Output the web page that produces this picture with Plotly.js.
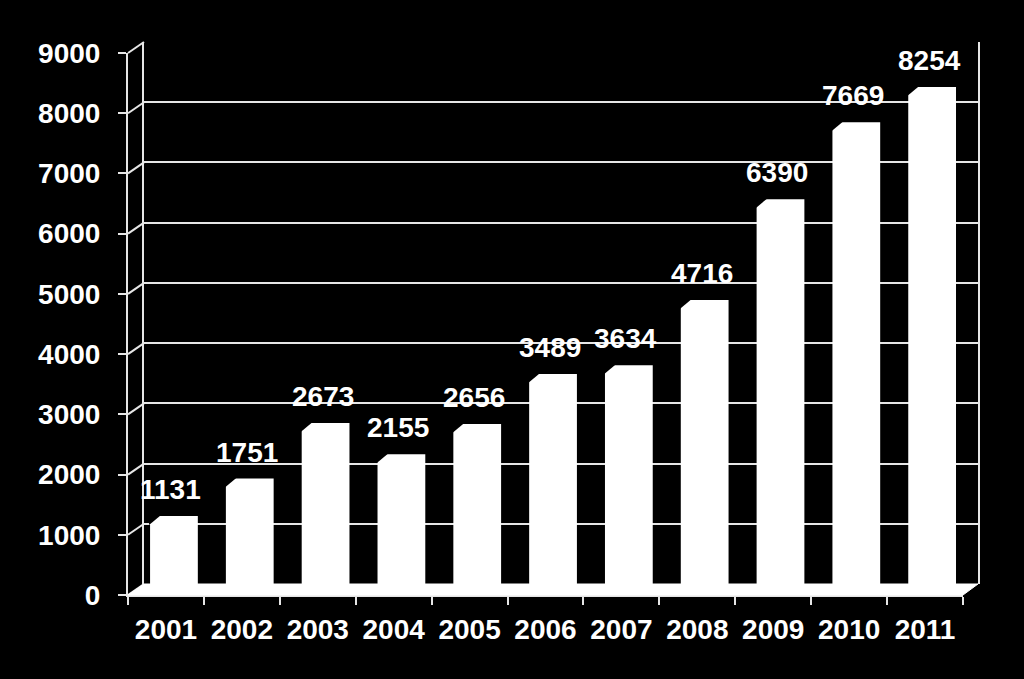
<!DOCTYPE html>
<html>
<head>
<meta charset="utf-8">
<script src="https://cdn.plot.ly/plotly-3.0.1.min.js"></script>
<style>
  html, body { margin: 0; padding: 0; background: #000; }
  #chart { width: 1024px; height: 679px; }
</style>
</head>
<body>
<div id="chart"></div>
<script>
// valores
var anos = ['2001', '2002', '2003', '2004', '2005', '2006', '2007', '2008', '2009', '2010', '2011'];
var valores = [1131, 1751, 2673, 2155, 2656, 3489, 3634, 4716, 6390, 7669, 8254];
var ticksY = [0, 1000, 2000, 3000, 4000, 5000, 6000, 7000, 8000, 9000];

var W = 1024, H = 679;
function px(x) { return x / W; }
function py(y) { return 1 - y / H; }

var fonte = 'Arial, "Liberation Sans", sans-serif';
var linha = '#e6e6e6';

// parede do fundo e eixo da frente (efeito 3D)
var fundo = { x0: 144, x1: 978, y0: 584, y1: 42 };
var frente = { x0: 128, x1: 963, y0: 595, y1: 53 };

var larguraBarra = 0.63;
var deslocBarra = -0.42;

var data = [{
    type: 'bar',
    x: anos,
    y: valores,
    xaxis: 'x',
    yaxis: 'y',
    width: larguraBarra,
    offset: deslocBarra,
    marker: { color: '#ffffff', line: { width: 0 } },
    hoverinfo: 'x+y'
}];

// rótulos em cima das barras (x pelo indice da categoria)
var anotacoes = anos.map(function(a, i) {
    return {
        x: i, y: valores[i], xref: 'x', yref: 'y',
        text: String(valores[i]), showarrow: false,
        xanchor: 'center', yanchor: 'bottom',
        xshift: -11, yshift: 9,
        font: { family: fonte, size: 28, color: '#ffffff', weight: 'bold' }
    };
});

var formas = [];
// ligações diagonais entre eixo da frente e linhas de grade
ticksY.forEach(function(v) {
    var yf = frente.y0 - v * (frente.y0 - frente.y1) / 9000;
    var yb = fundo.y0 - v * (fundo.y0 - fundo.y1) / 9000;
    formas.push({
        type: 'line', xref: 'paper', yref: 'paper',
        x0: px(frente.x0), y0: py(yf), x1: px(fundo.x0), y1: py(yb),
        line: { color: linha, width: 2 }
    });
});
// chanfro no canto de cima das barras (topo em perspectiva)
valores.forEach(function(v, i) {
    formas.push({
        type: 'path', xref: 'x', yref: 'y', layer: 'above',
        xsizemode: 'pixel', ysizemode: 'pixel',
        xanchor: i + deslocBarra, yanchor: v,
        path: 'M -1 1 L 11 1 L -1 -9 Z',
        fillcolor: '#000000', line: { width: 0 }
    });
});
// piso branco
formas.push({
    type: 'path', xref: 'paper', yref: 'paper', layer: 'above',
    path: 'M ' + px(frente.x0) + ' ' + py(frente.y0) +
          ' L ' + px(fundo.x0) + ' ' + py(fundo.y0) +
          ' L ' + px(fundo.x1) + ' ' + py(fundo.y0) +
          ' L ' + px(frente.x1) + ' ' + py(frente.y0) + ' Z',
    fillcolor: '#ffffff', line: { color: '#ffffff', width: 1 }
});

var layout = {
    width: W,
    height: H,
    margin: { l: 0, r: 0, t: 0, b: 0, pad: 0 },
    paper_bgcolor: '#000000',
    plot_bgcolor: 'rgba(0,0,0,0)',
    showlegend: false,
    font: { family: fonte, color: '#ffffff' },
    xaxis: {
        domain: [px(fundo.x0), px(fundo.x1)],
        anchor: 'y',
        type: 'category',
        categoryorder: 'array',
        categoryarray: anos,
        range: [-0.5, 10.5],
        showgrid: false, showticklabels: false, ticks: '', zeroline: false, showline: false
    },
    yaxis: {
        domain: [py(fundo.y0), py(fundo.y1)],
        anchor: 'x',
        range: [0, 9000],
        dtick: 1000,
        showgrid: true, gridcolor: linha, gridwidth: 2,
        showticklabels: false, ticks: '', zeroline: false,
        showline: true, linecolor: linha, linewidth: 2, mirror: true
    },
    xaxis2: {
        domain: [px(frente.x0), px(frente.x1)],
        anchor: 'y2',
        type: 'category',
        categoryorder: 'array',
        categoryarray: anos,
        range: [-0.5, 10.5],
        tickson: 'boundaries',
        ticks: 'outside', ticklen: 8, tickwidth: 2, tickcolor: linha,
        showline: true, linecolor: linha, linewidth: 2,
        showgrid: false, zeroline: false,
        ticklabelstandoff: 8,
        tickfont: { family: fonte, size: 28, color: '#ffffff', weight: 'bold' }
    },
    yaxis2: {
        domain: [py(frente.y0), py(frente.y1)],
        anchor: 'x2',
        range: [0, 9000],
        tickvals: ticksY,
        ticks: 'outside', ticklen: 8, tickwidth: 2, tickcolor: linha,
        showline: true, linecolor: linha, linewidth: 2,
        showgrid: false, zeroline: false,
        ticklabelstandoff: 12,
        tickfont: { family: fonte, size: 28, color: '#ffffff', weight: 'bold' }
    },
    annotations: anotacoes,
    shapes: formas
};

// traço vazio para o eixo da frente aparecer
data.push({
    type: 'scatter', x: anos, y: valores, xaxis: 'x2', yaxis: 'y2',
    mode: 'markers', marker: { opacity: 0 }, hoverinfo: 'skip'
});

Plotly.newPlot('chart', data, layout, { displayModeBar: false, staticPlot: true });
</script>
</body>
</html>
